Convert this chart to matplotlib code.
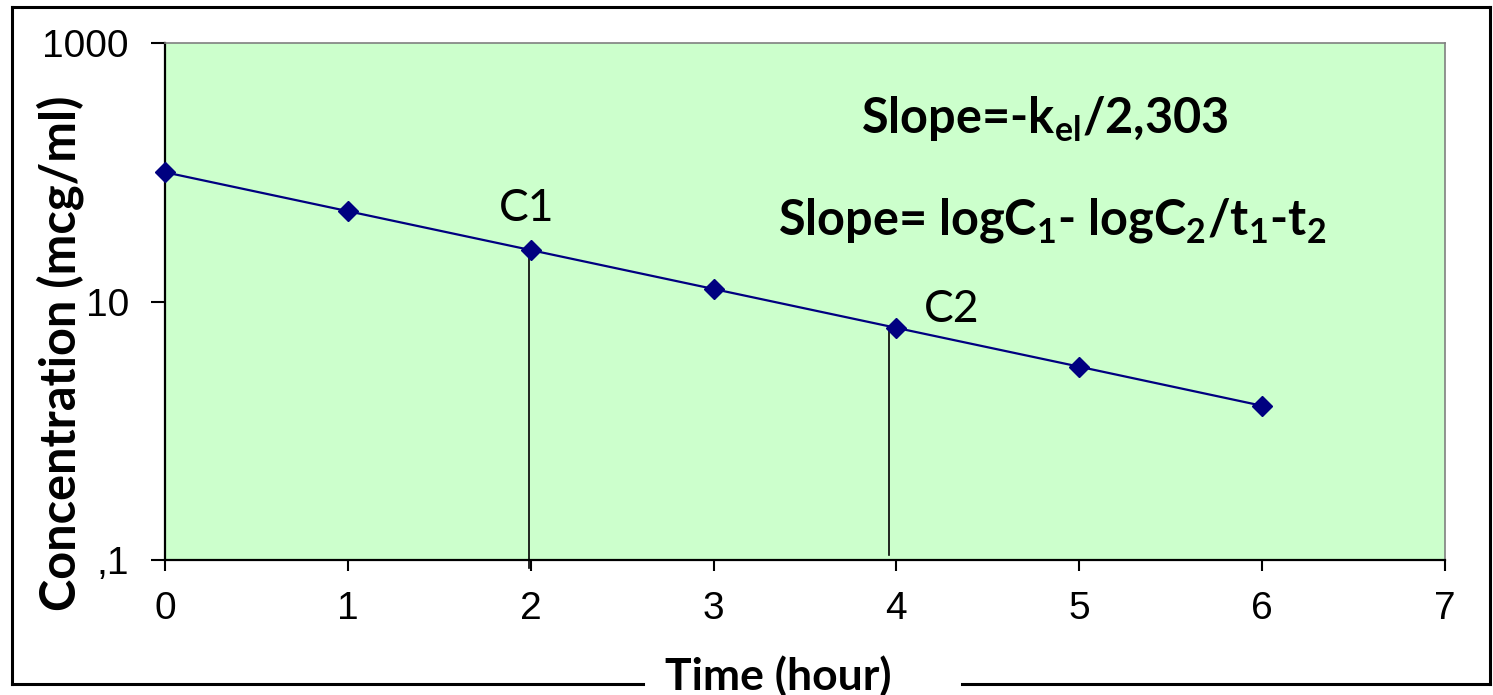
import matplotlib
matplotlib.use("Agg")
import matplotlib.pyplot as plt
from matplotlib.lines import Line2D

# data
time_h = [0, 1, 2, 3, 4, 5, 6]
conc = [100, 50, 25, 12.5, 6.25, 3.13, 1.56]
y_ticks = [0.1, 10, 1000]
y_tick_labels = [",1", "10", "1000"]
x_ticks = [0, 1, 2, 3, 4, 5, 6, 7]
# drop lines under C1 and C2
drop_x = [1.99, 3.96]
drop_top = [25, 6.4]
drop_bottom = [0.086, 0.11]

plt.rcParams["mathtext.fontset"] = "custom"
plt.rcParams["mathtext.rm"] = "Lato"
plt.rcParams["mathtext.bf"] = "Lato:bold"

W, H = 1493, 695
fig = plt.figure(figsize=(W / 100, H / 100), dpi=100)
ax = fig.add_axes([165 / W, 1 - 560 / H, 1280 / W, 517 / H])
ax.set_facecolor("#CCFFCC")

ax.plot(time_h, conc, color="#000080", lw=1.6, marker="D", markersize=10,
        zorder=3, clip_on=False)
for x, top, bot in zip(drop_x, drop_top, drop_bottom):
    ax.plot([x, x], [bot, top], color="black", lw=1.2, zorder=2, clip_on=False)

ax.set_yscale("log")
ax.set_ylim(0.1, 1000)
ax.set_xlim(0, 7)
ax.set_yticks(y_ticks)
ax.set_yticklabels(y_tick_labels)
ax.yaxis.set_minor_locator(matplotlib.ticker.NullLocator())
ax.set_xticks(x_ticks)

for lab in ax.get_xticklabels() + ax.get_yticklabels():
    lab.set_fontfamily("Liberation Sans")
    lab.set_fontsize(28)
ax.tick_params(axis="y", direction="out", length=10, width=1.5, pad=16)
ax.tick_params(axis="x", direction="out", length=8, width=1.5, pad=14)

for side in ["left", "bottom"]:
    ax.spines[side].set_color("black")
    ax.spines[side].set_linewidth(1.6)
for side in ["top", "right"]:
    ax.spines[side].set_color("#808080")
    ax.spines[side].set_linewidth(1.2)

ax.text(1.98, 52, "C1", fontsize=32, family="Lato", ha="center", va="center")
ax.text(4.3, 8.7, "C2", fontsize=32, family="Lato", ha="center", va="center")

ax.text(4.81, 255, r"Slope=-k$_{\mathbf{el}}$/2,303", fontsize=35, family="Lato",
        fontweight="bold", ha="center", va="center")
ax.text(4.85, 42, r"Slope= logC$_{\mathbf{1}}$- logC$_{\mathbf{2}}$/t$_{\mathbf{1}}$-t$_{\mathbf{2}}$",
        fontsize=35, family="Lato", fontweight="bold", ha="center", va="center")

fig.text(60 / W, 1 - 353 / H, "Concentration (mcg/ml)", rotation=90,
         fontsize=35, family="Lato", fontweight="bold", ha="center", va="center")
fig.text(778 / W, 1 - 690 / H, "Time (hour)", fontsize=32, family="Lato",
         fontweight="bold", ha="center", va="baseline")

# outer frame, bottom edge broken by the x label
def fline(x0, y0, x1, y1):
    fig.add_artist(Line2D([x0 / W, x1 / W], [1 - y0 / H, 1 - y1 / H],
                          color="black", lw=2.2, transform=fig.transFigure))

fline(12, 7, 1490, 7)
fline(12, 7, 12, 684)
fline(1490, 7, 1490, 684)
fline(12, 684, 643, 684)
fline(962, 684, 1490, 684)

fig.savefig("out.png", dpi=100)
